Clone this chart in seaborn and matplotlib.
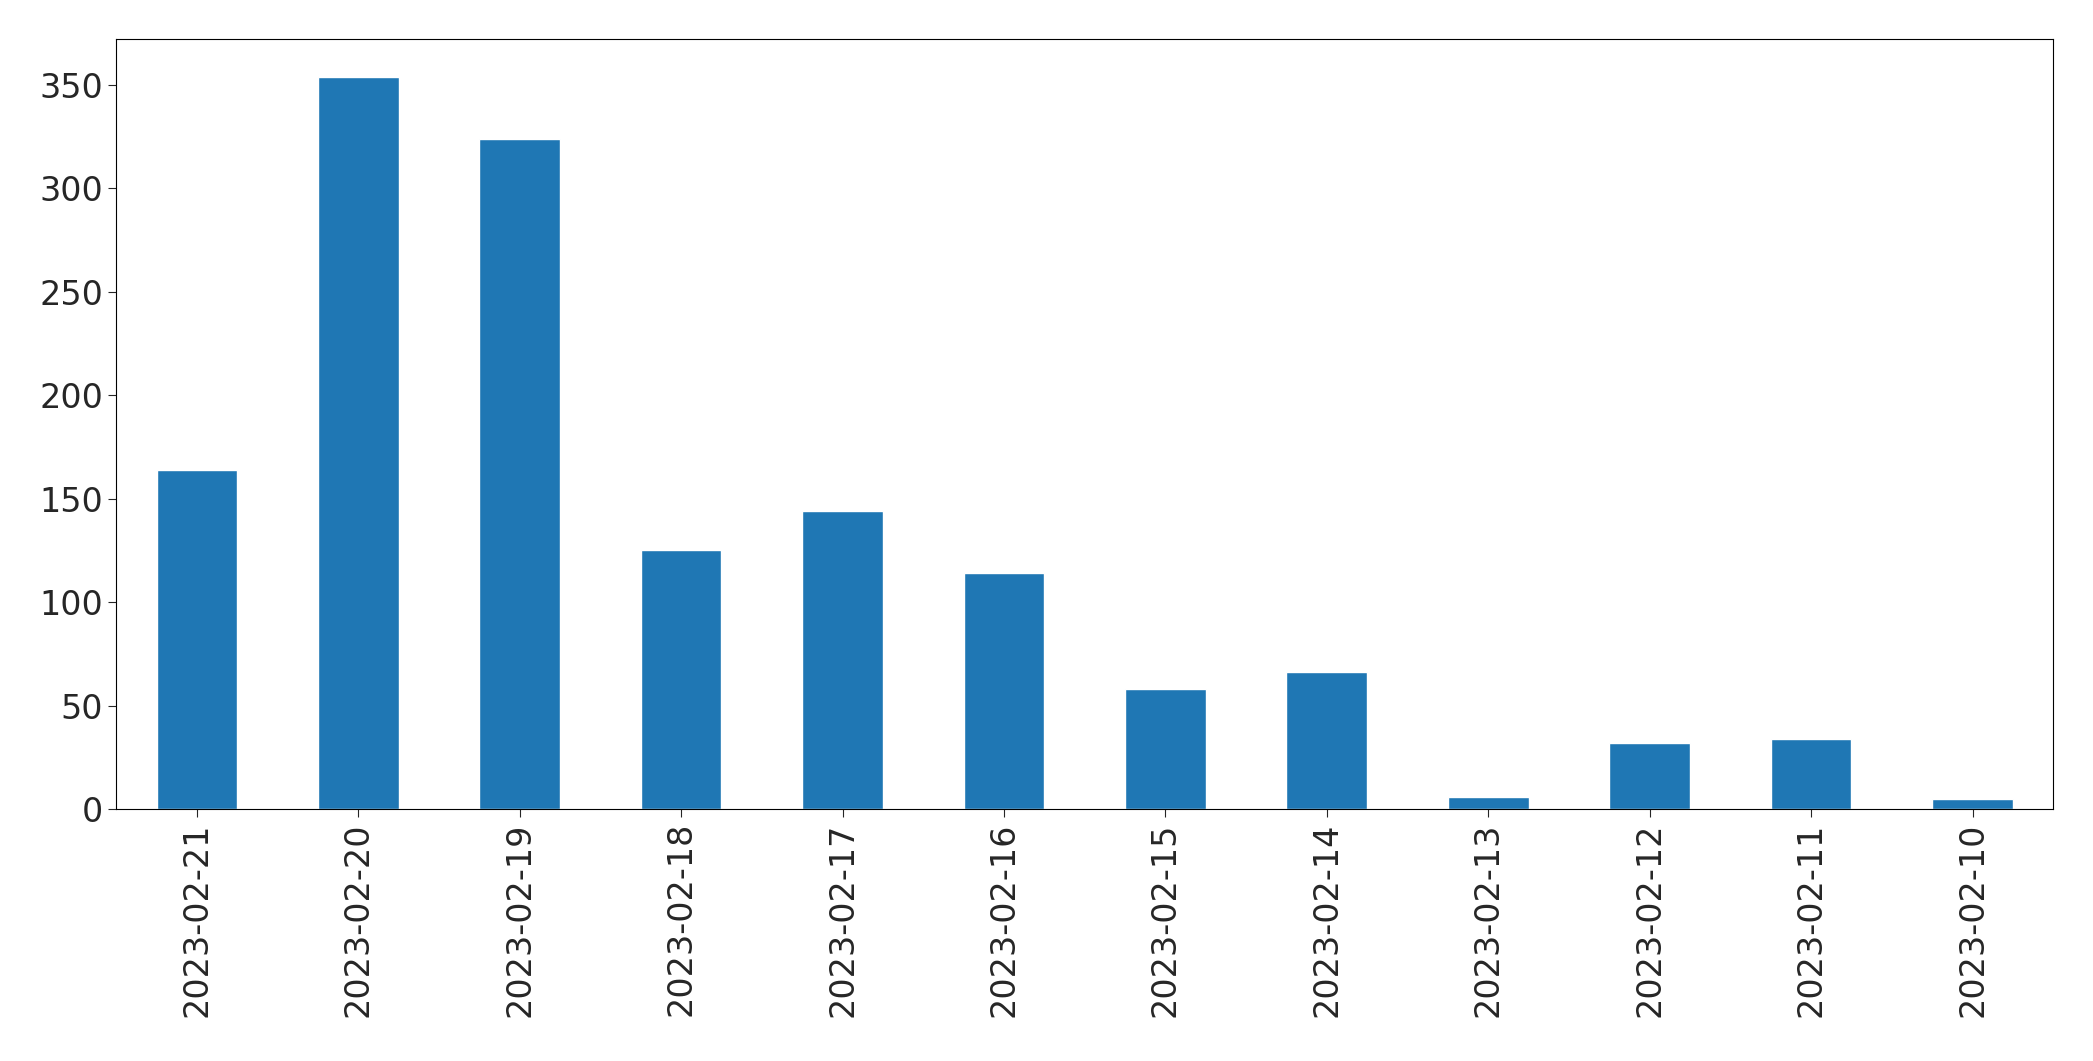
import matplotlib
matplotlib.use("Agg")
import matplotlib.pyplot as plt
import seaborn as sns
import pandas as pd

# daily counts, newest first
dates = ['2023-02-21', '2023-02-20', '2023-02-19', '2023-02-18', '2023-02-17', '2023-02-16',
         '2023-02-15', '2023-02-14', '2023-02-13', '2023-02-12', '2023-02-11', '2023-02-10']
counts = [164, 354, 324, 125, 144, 114, 58, 66, 6, 32, 34, 5]

df = pd.DataFrame({'date': dates, 'count': counts})

sns.set_style("white")
plt.rcParams['font.family'] = ['DejaVu Sans']

fig, ax = plt.subplots(figsize=(20.93, 10.61), dpi=100)
sns.barplot(data=df, x='date', y='count', color='#1f77b4', saturation=1, width=0.5, ax=ax)
ax.set_xlabel('')
ax.set_ylabel('')
ax.tick_params(axis='both', labelsize=24, length=6, left=True, bottom=True)
ax.tick_params(axis='x', labelrotation=90)
for s in ax.spines.values():
    s.set_color('black')
    s.set_linewidth(0.8)
ax.set_xlim(-0.5, len(dates) - 0.5)
ax.set_ylim(0, 372)
fig.subplots_adjust(left=0.0555, right=0.981, top=0.963, bottom=0.2375)
fig.savefig('out.png', dpi=100)
